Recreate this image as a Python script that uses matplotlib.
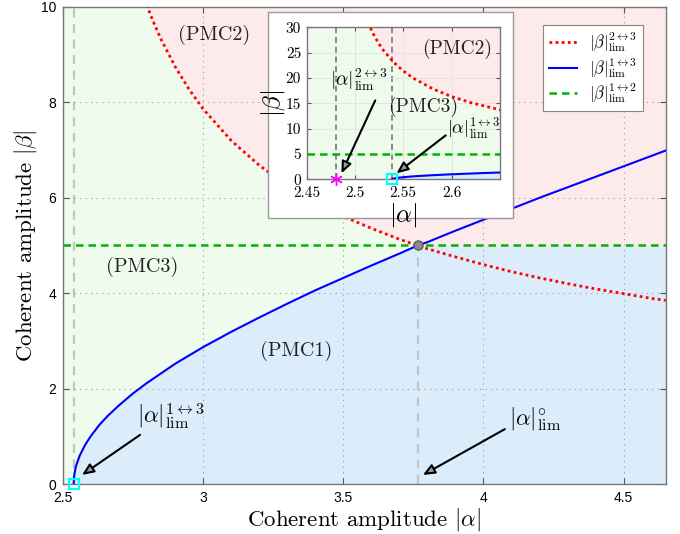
import numpy as np
import matplotlib
matplotlib.use("Agg")
import matplotlib.pyplot as plt
from matplotlib.patches import Rectangle

plt.rcParams['mathtext.fontset'] = 'cm'
plt.rcParams['axes.formatter.use_mathtext'] = True

# |beta|_lim^{1<->3} boundary (blue)
alpha_13 = [2.538, 2.54, 2.545, 2.55, 2.56, 2.58, 2.60, 2.63, 2.66, 2.70, 2.75, 2.80,
            2.90, 3.00, 3.10, 3.20, 3.30, 3.40, 3.50, 3.60, 3.70, 3.765, 3.80, 3.90,
            4.00, 4.10, 4.20, 4.30, 4.40, 4.50, 4.60, 4.65]
beta_13 = [0.00, 0.18, 0.34, 0.44, 0.60, 0.83, 1.01, 1.24, 1.43, 1.65, 1.90, 2.12,
           2.52, 2.87, 3.19, 3.49, 3.78, 4.06, 4.32, 4.58, 4.83, 5.00, 5.07, 5.31,
           5.54, 5.77, 6.00, 6.22, 6.44, 6.66, 6.88, 6.99]

# |beta|_lim^{2<->3} boundary (red)
alpha_23 = [2.516, 2.52, 2.525, 2.53, 2.54, 2.55, 2.56, 2.58, 2.60, 2.62, 2.65, 2.70,
            2.75, 2.80, 2.82, 2.85, 2.90, 2.95, 3.00, 3.10, 3.20, 3.30, 3.40, 3.50,
            3.60, 3.70, 3.765, 3.80, 3.90, 4.00, 4.10, 4.20, 4.30, 4.40, 4.50, 4.60, 4.65]
beta_23 = [29.90, 28.34, 26.72, 25.35, 23.14, 21.42, 20.04, 17.92, 16.36, 15.15, 13.75, 12.08,
           10.94, 10.02, 9.72, 9.32, 8.75, 8.27, 7.86, 7.20, 6.68, 6.26, 5.91, 5.61,
           5.36, 5.13, 5.00, 4.93, 4.76, 4.60, 4.45, 4.32, 4.20, 4.09, 3.99, 3.89, 3.85]

# |beta|_lim^{1<->2} level (green)
beta_12 = 5.0

# characteristic amplitudes
alpha_lim_13 = 2.538
alpha_lim_23 = 2.48
alpha_circ = 3.765

x_ticks = [2.5, 3, 3.5, 4, 4.5]
y_ticks = [0, 2, 4, 6, 8, 10]
inset_x_ticks = [2.45, 2.5, 2.55, 2.6]
inset_y_ticks = [0, 5, 10, 15, 20, 25, 30]

C_GREEN_BG = '#effbec'
C_PINK_BG = '#fdeaea'
C_BLUE_BG = '#dbecfb'
SERIF = 'cmr10'

a13 = np.array(alpha_13)
b13 = np.array(beta_13)
a23 = np.array(alpha_23)
b23 = np.array(beta_23)

fig = plt.figure(figsize=(6.8, 5.34), dpi=100)
ax = fig.add_axes([0.0926, 0.0936, 0.8864, 0.8934])
ax.set_xlim(2.5, 4.65)
ax.set_ylim(0, 10)
ax.set_facecolor(C_GREEN_BG)

# regions
ax.fill_between(a23, np.minimum(np.maximum(b23, beta_12), 10), 10,
                color=C_PINK_BG, lw=0, zorder=0.5)
ax.fill_between(a13, 0, np.minimum(b13, beta_12), color=C_BLUE_BG, lw=0, zorder=0.5)

ax.grid(True, linestyle=(0, (1, 4)), color='#999999', lw=0.8, zorder=0.8)

# reference lines
ax.axvline(alpha_lim_13, color='#c4c4c4', ls=(0, (4, 3)), lw=1.6, zorder=1)
ax.plot([alpha_circ, alpha_circ], [0, beta_12], color='#c4c4c4', ls=(0, (4, 3)), lw=1.6, zorder=1)

l_red, = ax.plot(a23, b23, color='red', ls=(0, (1, 1.2)), lw=2.0, zorder=3,
                 label=r'$|\beta|_{\rm lim}^{2\leftrightarrow 3}$')
l_blue, = ax.plot(a13, b13, color='blue', lw=1.5, zorder=3,
                  label=r'$|\beta|_{\rm lim}^{1\leftrightarrow 3}$')
l_green = ax.axhline(beta_12, color='#00b300', ls=(0, (3, 2)), lw=1.8, zorder=3,
                     label=r'$|\beta|_{\rm lim}^{1\leftrightarrow 2}$')

ax.plot([alpha_circ], [beta_12], 'o', ms=6.5, mfc='#8c8c8c', mec='#5a5a5a', mew=1.0, zorder=5)
ax.plot([alpha_lim_13], [0], 's', ms=7, mfc='none', mec='cyan', mew=1.6, zorder=6, clip_on=False)

arrow_kw = dict(arrowstyle='-|>,head_length=0.7,head_width=0.3', facecolor='#9a9a9a',
                edgecolor='black', lw=1.5, shrinkA=0, shrinkB=0)

ax.annotate('', xy=(2.568, 0.19), xytext=(2.775, 1.03), arrowprops=arrow_kw, zorder=7)
ax.text(2.883, 1.40, r'$|\alpha|_{\rm lim}^{1\leftrightarrow 3}$', fontsize=16.5,
        ha='center', va='center', zorder=7)
ax.annotate('', xy=(3.784, 0.19), xytext=(4.076, 1.15), arrowprops=arrow_kw, zorder=7)
ax.text(4.185, 1.36, r'$|\alpha|_{\rm lim}^{\circ}$', fontsize=16.5,
        ha='center', va='center', zorder=7)

for s, xx, yy in [('(PMC2)', 3.039, 9.41), ('(PMC3)', 2.784, 4.54), ('(PMC1)', 3.333, 2.79)]:
    ax.text(xx, yy, s, fontsize=14.5, family=SERIF, ha='center', va='center', color='#222222')

ax.set_xticks(x_ticks)
ax.set_xticklabels([f'{v:g}' for v in x_ticks])
ax.set_yticks(y_ticks)
ax.set_yticklabels([f'{v:g}' for v in y_ticks])
ax.tick_params(direction='in', length=4, width=0.8, color='#555555', labelsize=10,
               top=True, right=True, pad=5)
for lab in ax.get_xticklabels() + ax.get_yticklabels():
    lab.set_family('Liberation Sans')
for sp in ax.spines.values():
    sp.set_color('#777777')
    sp.set_linewidth(1.0)

ax.set_xlabel(r'Coherent amplitude $|\alpha|$', fontsize=16.5, family=SERIF, labelpad=1)
ax.set_ylabel(r'Coherent amplitude $|\beta|$', fontsize=16.5, family=SERIF, labelpad=1)

leg = ax.legend(handles=[l_red, l_blue, l_green], loc='upper right',
                bbox_to_anchor=(0.962, 0.962), borderaxespad=0, fontsize=12, frameon=True,
                fancybox=False, framealpha=1, edgecolor='#888888', handlelength=1.7,
                handletextpad=0.7, borderpad=0.35, labelspacing=0.1)
leg.get_frame().set_linewidth(0.8)
leg.set_zorder(10)

# inset panel
frame = Rectangle((0.394, 0.592), 0.360, 0.386, transform=fig.transFigure,
                  facecolor='white', edgecolor='#999999', lw=1.0, zorder=2)
fig.add_artist(frame)

ins = fig.add_axes([0.451, 0.664, 0.284, 0.2846], zorder=3)
ins.set_xlim(2.45, 2.65)
ins.set_ylim(0, 30)
ins.set_facecolor(C_GREEN_BG)
ins.fill_between(a23, np.minimum(b23, 30), 30, color=C_PINK_BG, lw=0, zorder=0.5)
ins.fill_between(a13, 0, b13, color=C_BLUE_BG, lw=0, zorder=0.5)
ins.grid(True, color='#e2e2e2', lw=0.6, zorder=0.8)

ins.axvline(alpha_lim_23, color='#888888', ls=(0, (3, 2)), lw=1.4, zorder=1)
ins.axvline(alpha_lim_13, color='#888888', ls=(0, (3, 2)), lw=1.4, zorder=1)
ins.plot(a23, b23, color='red', ls=(0, (1, 1.2)), lw=2.0, zorder=3)
ins.plot(a13, b13, color='blue', lw=1.5, zorder=3)
ins.axhline(beta_12, color='#00b300', ls=(0, (3, 2)), lw=1.8, zorder=3)
ins.plot([alpha_lim_23], [0], marker=(6, 2, 0), ms=9, mec='magenta', mew=1.0,
         ls='none', zorder=6, clip_on=False)
ins.plot([alpha_lim_13], [0], 's', ms=7, mfc='none', mec='cyan', mew=1.6,
         zorder=6, clip_on=False)

ins.annotate('', xy=(2.486, 1.2), xytext=(2.521, 15.6), arrowprops=arrow_kw, zorder=7)
ins.text(2.504, 19.6, r'$|\alpha|_{\rm lim}^{2\leftrightarrow 3}$', fontsize=14,
         ha='center', va='center', zorder=7)
ins.annotate('', xy=(2.543, 1.2), xytext=(2.594, 8.7), arrowprops=arrow_kw, zorder=7)
ins.text(2.623, 9.8, r'$|\alpha|_{\rm lim}^{1\leftrightarrow 3}$', fontsize=13,
         ha='center', va='center', zorder=7)
ins.text(2.606, 25.7, '(PMC2)', fontsize=14, family=SERIF, ha='center', va='center', color='#222222')
ins.text(2.571, 14.3, '(PMC3)', fontsize=14, family=SERIF, ha='center', va='center', color='#222222')

ins.set_xticks(inset_x_ticks)
ins.set_xticklabels([f'{v:g}' for v in inset_x_ticks])
ins.set_yticks(inset_y_ticks)
ins.set_yticklabels([f'{v:g}' for v in inset_y_ticks])
ins.tick_params(direction='in', length=3, width=0.8, color='#555555', labelsize=11,
                top=True, right=True)
ins.tick_params(axis='x', pad=5)
ins.tick_params(axis='y', pad=4)
for lab in ins.get_xticklabels() + ins.get_yticklabels():
    lab.set_family(SERIF)
for sp in ins.spines.values():
    sp.set_color('#777777')
    sp.set_linewidth(1.0)
ins.set_xlabel(r'$|\alpha|$', fontsize=18, labelpad=1)
ins.set_ylabel(r'$|\beta|$', fontsize=18, labelpad=-1)

fig.savefig('out.png', dpi=100)
